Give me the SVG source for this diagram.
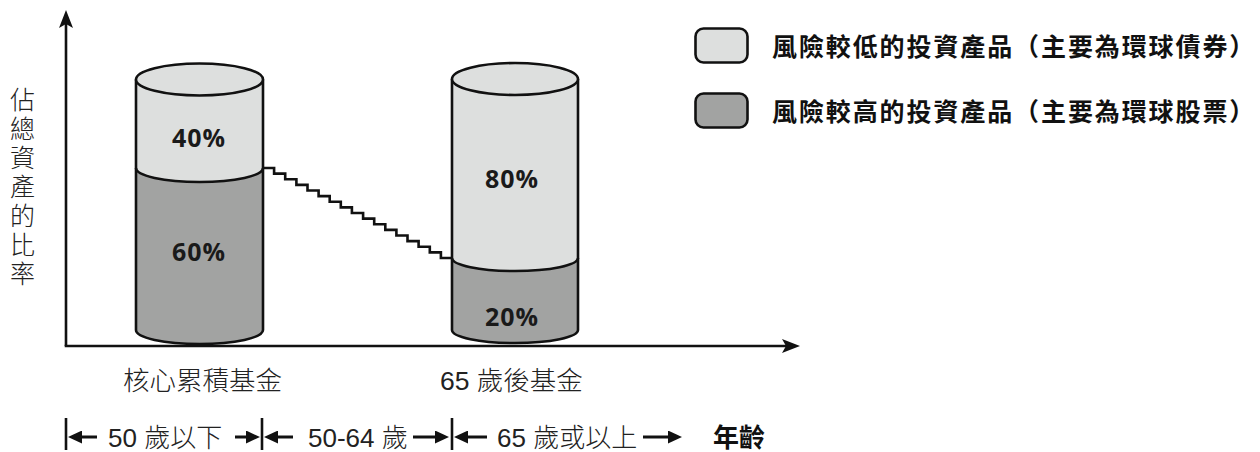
<svg xmlns="http://www.w3.org/2000/svg" width="1260" height="452" viewBox="0 0 1260 452">
<style>
.ln{stroke:#111;stroke-width:2.6;fill:none}
.light{fill:#dddfde}
.dark{fill:#a2a3a2}
.pct{font-family:"Open Sans","Noto Sans",sans-serif;font-weight:700;font-size:25px;letter-spacing:1px;fill:#1a1a1a;text-anchor:middle}
.leg{font-family:"Noto Sans CJK TC","Noto Sans",sans-serif;font-weight:700;font-size:25px;letter-spacing:1.9px;fill:#111}
.cat{font-family:"Liberation Sans","Noto Sans CJK TC",sans-serif;font-weight:300;font-size:26.5px;fill:#222}
.age{font-family:"Liberation Sans","Noto Sans CJK TC",sans-serif;font-weight:300;font-size:26px;fill:#222}
.agebold{font-family:"Noto Sans CJK TC",sans-serif;font-weight:700;font-size:26px;fill:#111}
.ylab{font-family:"Noto Sans CJK TC",sans-serif;font-weight:300;font-size:25px;fill:#222;writing-mode:vertical-rl;text-orientation:upright;letter-spacing:4px}
.arr{stroke:#111;stroke-width:3;fill:none}
.bar{stroke:#111;stroke-width:2.6}
</style>
<defs>
<marker id="axhead" viewBox="0 0 18 14" refX="4" refY="7" markerWidth="18" markerHeight="14" markerUnits="userSpaceOnUse" orient="auto">
<path d="M0,0 L18,7 L0,14 L4,7 Z" fill="#111"/>
</marker>
<marker id="smhead" viewBox="0 0 14 13" refX="2" refY="6.5" markerWidth="14" markerHeight="13" markerUnits="userSpaceOnUse" orient="auto">
<path d="M0,0 L14,6.5 L0,13 Z" fill="#111"/>
</marker>
</defs>

<g id="axes">
<line class="ln" x1="66" y1="346" x2="66" y2="24" marker-end="url(#axhead)"/>
<line class="ln" x1="64.7" y1="346" x2="786" y2="346" marker-end="url(#axhead)"/>
</g>

<g id="y-label">
<text class="ylab" x="22.5" y="87">佔總資產的比率</text>
</g>

<g id="connectors">
<path class="ln" d="M263,168 H274.1 V173.6 H285.2 V179.3 H296.4 V184.9 H307.5 V190.5 H318.6 V196.1 H329.7 V201.8 H340.8 V207.4 H351.9 V213 H363.1 V218.6 H374.2 V224.3 H385.3 V229.9 H396.4 V235.5 H407.5 V241.1 H418.6 V246.8 H429.8 V252.4 H440.9 V258 H452"/>
</g>

<g id="cylinder-core">
<path class="light" d="M136,79.5 V168 A63.5,14 0 0 0 263,168 V79.5 Z"/>
<path class="dark" d="M136,168 A63.5,14 0 0 0 263,168 V330 A63.5,14 0 0 1 136,330 Z"/>
<path class="ln" d="M136,79.5 V330 A63.5,14 0 0 0 263,330 V79.5"/>
<path class="ln" d="M136,168 A63.5,14 0 0 0 263,168"/>
<ellipse class="ln light" cx="199.5" cy="79.5" rx="63.5" ry="16"/>
<text class="pct" x="199" y="147">40%</text>
<text class="pct" x="199" y="261">60%</text>
</g>

<g id="cylinder-65">
<path class="light" d="M452,79 V258 A63,13 0 0 0 578,258 V79 Z"/>
<path class="dark" d="M452,258 A63,13 0 0 0 578,258 V330 A63,13 0 0 1 452,330 Z"/>
<path class="ln" d="M452,79 V330 A63,13 0 0 0 578,330 V79"/>
<path class="ln" d="M452,258 A63,13 0 0 0 578,258"/>
<ellipse class="ln light" cx="515" cy="79" rx="63" ry="16"/>
<text class="pct" x="512" y="188">80%</text>
<text class="pct" x="512" y="326">20%</text>
</g>

<g id="categories">
<text class="cat" x="123" y="390">核心累積基金</text>
<text class="cat" x="440" y="390">65 歲後基金</text>
</g>

<g id="legend">
<rect class="ln light" x="695.5" y="28.5" width="52" height="34" rx="8"/>
<text class="leg" x="772" y="56">風險較低的投資產品（主要為環球債券）</text>
<rect class="ln dark" x="695.5" y="93.5" width="52" height="34" rx="8"/>
<text class="leg" x="772" y="121">風險較高的投資產品（主要為環球股票）</text>
</g>

<g id="age-scale">
<line class="bar" x1="66" y1="418" x2="66" y2="450"/>
<line class="bar" x1="262" y1="418" x2="262" y2="450"/>
<line class="bar" x1="452" y1="418" x2="452" y2="450"/>
<line class="arr" x1="97" y1="437" x2="80" y2="437" marker-end="url(#smhead)"/>
<line class="arr" x1="235" y1="437" x2="248" y2="437" marker-end="url(#smhead)"/>
<line class="arr" x1="293" y1="437" x2="276" y2="437" marker-end="url(#smhead)"/>
<line class="arr" x1="413" y1="437" x2="437" y2="437" marker-end="url(#smhead)"/>
<line class="arr" x1="487" y1="437" x2="466" y2="437" marker-end="url(#smhead)"/>
<line class="arr" x1="643" y1="437" x2="670" y2="437" marker-end="url(#smhead)"/>
<text class="age" x="108" y="447">50 歲以下</text>
<text class="age" x="308" y="447">50-64 歲</text>
<text class="age" x="497" y="447">65 歲或以上</text>
<text class="agebold" x="713" y="447">年齡</text>
</g>
</svg>
